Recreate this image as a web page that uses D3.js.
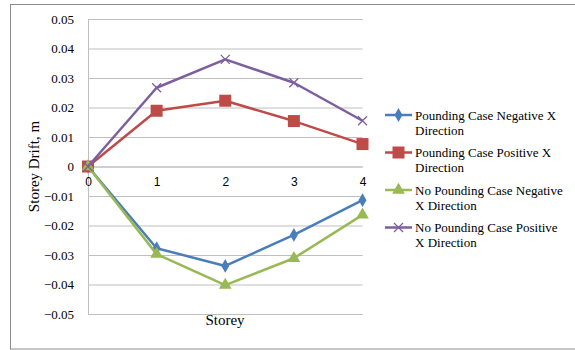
<!DOCTYPE html>
<html>
<head>
<meta charset="utf-8">
<script src="https://cdn.jsdelivr.net/npm/d3@7"></script>
<style>
  html, body { margin: 0; padding: 0; background: #fff; }
  svg { display: block; }
</style>
</head>
<body>
<svg id="chart" width="575" height="350"></svg>
<script>
// Storey drift per storey for the four load cases
const storeys = [0, 1, 2, 3, 4];
const poundingNegX   = [0, -0.0277, -0.0337, -0.0232, -0.0114];
const poundingPosX   = [0, 0.0189, 0.0223, 0.0154, 0.0076];
const noPoundingNegX = [0, -0.0297, -0.0402, -0.0311, -0.0164];
const noPoundingPosX = [0, 0.0267, 0.0363, 0.0284, 0.0155];
const yTicks = [0.05, 0.04, 0.03, 0.02, 0.01, 0, -0.01, -0.02, -0.03, -0.04, -0.05];

const series = [
  { name: ["Pounding Case Negative X", "Direction"], values: poundingNegX, color: "#4a7ebb", marker: "diamond" },
  { name: ["Pounding Case Positive X", "Direction"], values: poundingPosX, color: "#be4b48", marker: "square" },
  { name: ["No Pounding Case Negative", "X Direction"], values: noPoundingNegX, color: "#98b954", marker: "triangle" },
  { name: ["No Pounding Case Positive", "X Direction"], values: noPoundingPosX, color: "#7d5fa0", marker: "cross" }
];

const svg = d3.select("#chart");

// outer chart frame
svg.append("rect")
  .attr("x", 10.5).attr("y", 4.5)
  .attr("width", 570).attr("height", 344.5)
  .attr("fill", "none").attr("stroke", "#8c8c8c").attr("stroke-width", 1);

const plot = { left: 88, right: 362.5, top: 19, bottom: 314 };

const x = d3.scaleLinear().domain([0, 4]).range([plot.left, plot.right]);
const y = d3.scaleLinear().domain([-0.05, 0.05]).range([plot.bottom, plot.top]);

// horizontal gridlines and y tick labels
const yAxis = d3.axisLeft(y).tickValues(yTicks)
  .tickSize(-(plot.right - plot.left))
  .tickPadding(14)
  .tickFormat(d => d === 0 ? "0" : d3.format(".2f")(d));
const gy = svg.append("g").attr("transform", `translate(${plot.left},0)`).call(yAxis);
gy.select(".domain").attr("stroke", "#bfbfbf");
gy.selectAll(".tick line").attr("stroke", "#bfbfbf");
gy.selectAll(".tick text")
  .attr("font-family", "'Liberation Serif', 'Times New Roman', serif")
  .attr("font-size", 13).attr("fill", "#000");

// x axis along the zero line
const xAxis = d3.axisBottom(x).tickValues(storeys).tickSize(0).tickPadding(11).tickFormat(d3.format("d"));
const gx = svg.append("g").attr("transform", `translate(0,${y(0)})`).call(xAxis);
gx.select(".domain").attr("stroke", "#bfbfbf");
gx.selectAll(".tick text")
  .attr("font-family", "'Liberation Sans', Arial, sans-serif")
  .attr("font-size", 12).attr("fill", "#000");

// axis titles
svg.append("text")
  .attr("x", 225).attr("y", 325)
  .attr("text-anchor", "middle")
  .attr("font-family", "'Liberation Serif', 'Times New Roman', serif")
  .attr("font-size", 15).text("Storey");

svg.append("text")
  .attr("transform", `translate(39,${y(0)}) rotate(-90)`)
  .attr("text-anchor", "middle")
  .attr("font-family", "'Liberation Serif', 'Times New Roman', serif")
  .attr("font-size", 15).text("Storey Drift, m");

// marker shapes
function drawMarker(g, type, color, cx, cy) {
  if (type === "diamond") {
    g.append("path").attr("d", d3.symbol(d3.symbolDiamond, 55)()).attr("transform", `translate(${cx},${cy})`).attr("fill", color);
  } else if (type === "square") {
    g.append("rect").attr("x", cx - 6).attr("y", cy - 6).attr("width", 12).attr("height", 12).attr("fill", color);
  } else if (type === "triangle") {
    g.append("path").attr("d", d3.symbol(d3.symbolTriangle, 70)()).attr("transform", `translate(${cx},${cy})`).attr("fill", color);
  } else if (type === "cross") {
    g.append("path").attr("d", `M${cx - 4.5},${cy - 4.5}L${cx + 4.5},${cy + 4.5}M${cx - 4.5},${cy + 4.5}L${cx + 4.5},${cy - 4.5}`)
      .attr("stroke", color).attr("stroke-width", 1.3).attr("fill", "none");
  }
}

const line = d3.line().x((d, i) => x(storeys[i])).y(d => y(d));

series.forEach(s => {
  const g = svg.append("g");
  g.append("path").datum(s.values).attr("d", line)
    .attr("fill", "none").attr("stroke", s.color).attr("stroke-width", 2.5)
    .attr("stroke-linejoin", "round");
  s.values.forEach((v, i) => drawMarker(g, s.marker, s.color, x(storeys[i]), y(v)));
});

// legend
const legend = svg.append("g");
series.forEach((s, i) => {
  const ly = 115 + i * 37.5;
  const g = legend.append("g");
  g.append("line").attr("x1", 385).attr("x2", 412).attr("y1", ly).attr("y2", ly)
    .attr("stroke", s.color).attr("stroke-width", 2.5);
  drawMarker(g, s.marker, s.color, 398.5, ly);
  s.name.forEach((t, j) => {
    g.append("text").attr("x", 415).attr("y", ly + 4.5 + j * 15)
      .attr("font-family", "'Liberation Serif', 'Times New Roman', serif")
      .attr("font-size", 13).text(t);
  });
});
</script>
</body>
</html>
